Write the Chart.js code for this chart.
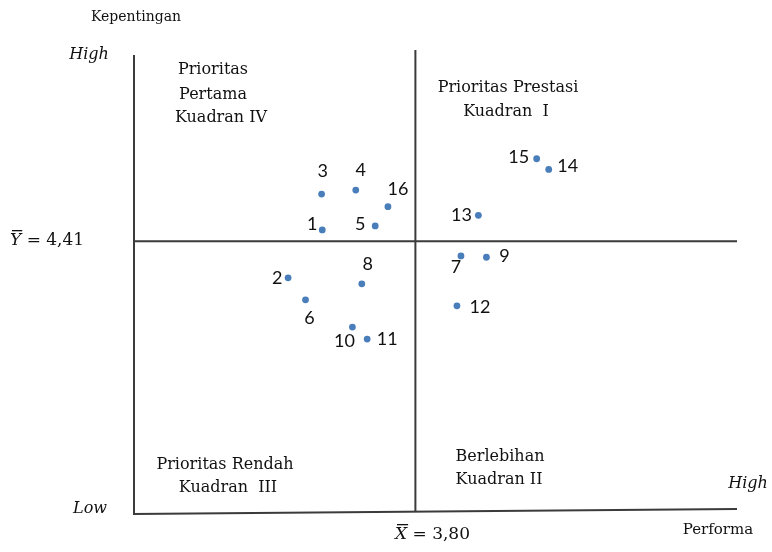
<!DOCTYPE html>
<html>
<head>
<meta charset="utf-8">
<script src="https://cdn.jsdelivr.net/npm/chart.js@4/dist/chart.umd.min.js"></script>
<style>
  html, body { margin: 0; padding: 0; background: #fff; }
  canvas { display: block; }
</style>
</head>
<body>
<canvas id="ipa" width="772" height="552"></canvas>
<script>
// atribut (nomor), performa (x) dan kepentingan (y)
const atribut = ['1', '2', '3', '4', '5', '6', '7', '8', '9', '10', '11', '12', '13', '14', '15', '16']
const performa = [3.661, 3.610, 3.660, 3.711, 3.740, 3.636, 3.868, 3.720, 3.906, 3.706, 3.728, 3.862, 3.894, 3.999, 3.981, 3.759]
const kepentingan = [4.427, 4.355, 4.481, 4.487, 4.433, 4.322, 4.388, 4.346, 4.386, 4.281, 4.263, 4.313, 4.449, 4.518, 4.534, 4.462]

const rataPerforma = 3.80
const rataKepentingan = 4.41
const batasX = [3.38, 4.28]
const batasY = [4.00, 4.69]

// geser posisi nomor terhadap titik (px)
const geserLabel = [[-10, -6], [-11, 0], [1, -23], [5, -20], [-15, -2], [4, 18], [-5, 11], [6, -20],
  [18, -1], [-8, 14], [20, 0], [23, 1], [-17, 0], [19, -3], [-18, -2], [10, -17]]

const serif = '"DejaVu Serif", serif'
const ink = '#111111'

const quadrantPlugin = {
  id: 'quadrant',
  beforeDatasetsDraw (chart) {
    const { ctx, scales: { x, y } } = chart
    const left = x.getPixelForValue(batasX[0])
    const right = x.getPixelForValue(batasX[1])
    const top = y.getPixelForValue(batasY[1])
    const bottom = y.getPixelForValue(batasY[0])
    const mx = x.getPixelForValue(rataPerforma)
    const my = y.getPixelForValue(rataKepentingan)
    ctx.save()
    ctx.strokeStyle = '#3b3b3b'
    ctx.lineWidth = 2
    ctx.beginPath()
    ctx.moveTo(left, top); ctx.lineTo(left, bottom)
    // garis bawah sedikit miring seperti aslinya
    ctx.moveTo(left - 1, bottom); ctx.lineTo(right, bottom - 5)
    ctx.moveTo(mx, top - 5); ctx.lineTo(mx, bottom - 2)
    ctx.moveTo(left, my); ctx.lineTo(right, my)
    ctx.stroke()
    ctx.restore()
  },
  afterDatasetsDraw (chart) {
    const { ctx } = chart
    const meta = chart.getDatasetMeta(0)
    ctx.save()
    ctx.fillStyle = ink
    ctx.textAlign = 'center'
    ctx.textBaseline = 'middle'
    ctx.font = '18px Lato, "Open Sans", sans-serif'
    meta.data.forEach((pt, i) => {
      const [dx, dy] = geserLabel[i]
      ctx.fillText(atribut[i], pt.x + dx, pt.y + dy)
    })

    const text = (s, cx, cy, size, italic) => {
      ctx.font = (italic ? 'italic ' : '') + size + 'px ' + serif
      ctx.fillText(s, cx, cy)
    }
    text('Kepentingan', 136, 17, 14)
    text('High', 89, 55, 16, true)
    text('Prioritas', 213, 70, 16)
    text('Pertama', 213, 95, 16)
    text('Kuadran IV', 221, 118, 16)
    text('Prioritas Prestasi', 508, 88, 16)
    text('Kuadran  I', 506, 112, 16)
    text('Prioritas Rendah', 225, 465, 16)
    text('Kuadran  III', 228, 488, 16)
    text('Berlebihan', 500, 457, 16)
    text('Kuadran II', 499, 480, 16)
    text('High', 748, 484, 16, true)
    text('Low', 90, 509, 16, true)
    text('Performa', 718, 530, 15)

    // label rata-rata dengan garis di atas huruf
    const meanLabel = (letter, value, lx, cy) => {
      ctx.textAlign = 'left'
      ctx.font = 'italic 17px ' + serif
      ctx.fillText(letter, lx, cy)
      const w = ctx.measureText(letter).width
      ctx.fillRect(lx + 2, cy - 11, w - 1, 1.3)
      ctx.font = '17px ' + serif
      ctx.fillText(' = ' + value, lx + w, cy)
      ctx.textAlign = 'center'
    }
    meanLabel('Y', '4,41', 10, 241)
    meanLabel('X', '3,80', 395, 535)
    ctx.restore()
  }
}

new Chart(document.getElementById('ipa'), {
  type: 'scatter',
  data: {
    datasets: [{
      data: performa.map((v, i) => ({ x: v, y: kepentingan[i] })),
      backgroundColor: '#4a7ebb',
      borderColor: '#4a7ebb',
      pointRadius: 3.4,
      borderWidth: 0
    }]
  },
  options: {
    responsive: false,
    animation: false,
    devicePixelRatio: 1,
    layout: { padding: { left: 134, right: 35, top: 55, bottom: 38 } },
    plugins: { legend: { display: false }, tooltip: { enabled: false } },
    scales: {
      x: { type: 'linear', min: batasX[0], max: batasX[1], display: false },
      y: { type: 'linear', min: batasY[0], max: batasY[1], display: false }
    }
  },
  plugins: [quadrantPlugin]
})
</script>
</body>
</html>
